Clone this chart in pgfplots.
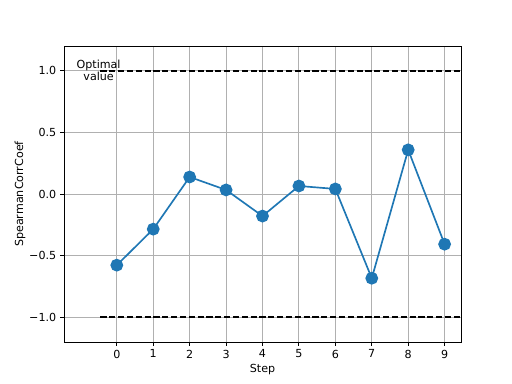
\documentclass[border=0pt]{standalone}
\usepackage{pgfplots}
\pgfplotsset{compat=1.18}
\usepackage{fontspec}
\setmainfont{DejaVu Sans}
\definecolor{mplblue}{HTML}{1F77B4}
\begin{document}
\begin{tikzpicture}[x=1pt,y=1pt]
\path (0,0) rectangle (460.8,345.6);
\begin{axis}[
  at={(57.6pt,37.8pt)}, anchor=south west,
  width=357.3pt, height=266.4pt, scale only axis,
  xmin=-1.45, xmax=9.45, ymin=-1.2, ymax=1.2,
  xtick={0,...,9}, ytick={-1,-0.5,0,0.5,1},
  yticklabels={−1.0,−0.5,0.0,0.5,1.0},
  /pgf/number format/assume math mode=true,
  tick align=outside, tick pos=left,
  major tick length=3.5pt,
  tick style={black, line width=0.8pt},
  grid=major, major grid style={color=black!31, line width=0.8pt},
  axis line style={line width=0.8pt},
  xlabel={Step}, ylabel={SpearmanCorrCoef},
  ticklabel style={font=\fontsize{10}{12}\selectfont},
  label style={font=\fontsize{10}{12}\selectfont},
  xlabel style={yshift=1pt},
  ylabel style={yshift=-3.5pt},
  clip=false,
]
\addplot[black, dashed, line width=1.5pt, dash pattern=on 5.55pt off 2.4pt, forget plot] coordinates {(-0.45,1) (9.45,1)};
\addplot[black, dashed, line width=1.5pt, dash pattern=on 5.55pt off 2.4pt, forget plot] coordinates {(-0.45,-1) (9.45,-1)};
\addplot[mplblue, line width=1.5pt, mark=*, mark size=5pt, mark options={fill=mplblue, draw=mplblue}] coordinates {
(0,-0.577) (1,-0.285) (2,0.138) (3,0.033) (4,-0.179) (5,0.065) (6,0.041) (7,-0.683) (8,0.358) (9,-0.407)};
\node[align=center, font=\fontsize{10}{11}\selectfont, inner sep=0pt] at (axis cs:-0.5,1.0) {Optimal\\value};
\end{axis}
\end{tikzpicture}
\end{document}
